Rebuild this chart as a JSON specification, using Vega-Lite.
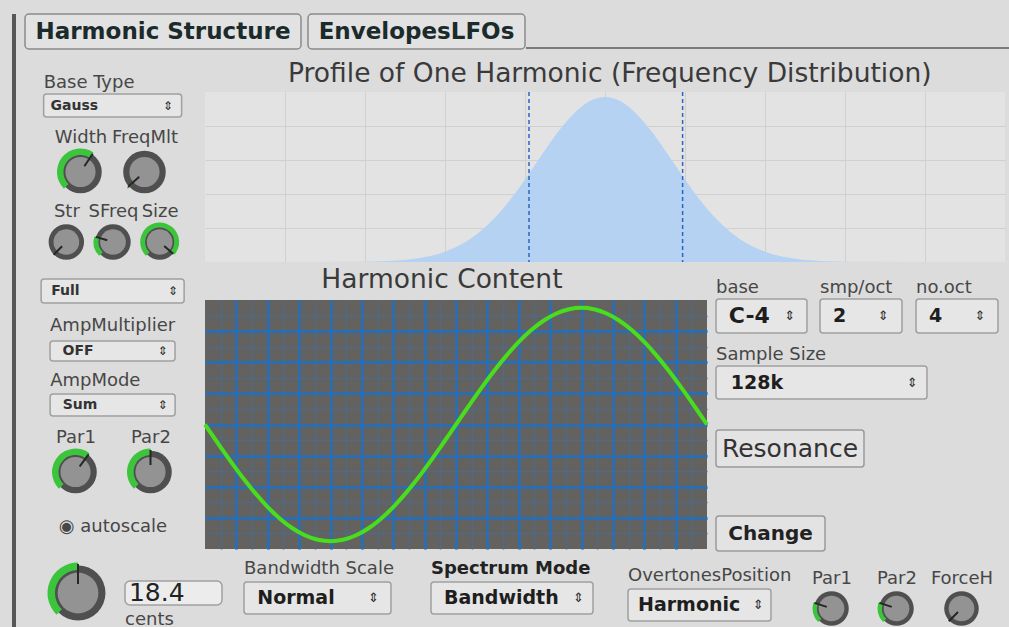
{
 "$schema": "https://vega.github.io/schema/vega-lite/v6.json",
 "background": "#dcdcdc",
 "padding": {"left": 12, "top": 13, "right": 0, "bottom": 0},
 "config": {
  "font": "DejaVu Sans",
  "view": {"stroke": null},
  "axis": {"minExtent": 0, "tickSize": 0, "labelPadding": 0, "labelFont": "DejaVu Sans"},
  "title": {"font": "DejaVu Sans", "fontSize": 18, "fontWeight": "normal", "color": "#474747", "anchor": "start", "offset": 4},
  "text": {"font": "DejaVu Sans"}
 },
 "spacing": 8,
 "hconcat": [
  {"width": 4, "height": 614, "view": {"fill": "#575757"}, "data": {"values": []}, "mark": "text"},
  {"spacing": 0, "vconcat": [
   {"spacing": 0, "hconcat": [
    {"width": 276, "height": 35, "view": {"fill": "#e2e2e2", "stroke": "#8a8a8a", "strokeWidth": 1.5, "cornerRadius": 4}, "data": {"values": [{"tab": "Harmonic Structure"}]}, "mark": {"type": "text", "fontSize": 23, "fontWeight": "bold", "color": "#1b2a2a"}, "encoding": {"text": {"field": "tab", "type": "nominal"}}},
    {"width": 5, "height": 1, "data": {"values": []}, "mark": "text"},
    {"width": 217, "height": 35, "view": {"fill": "#e2e2e2", "stroke": "#8a8a8a", "strokeWidth": 1.5, "cornerRadius": 4}, "data": {"values": [{"tab": "EnvelopesLFOs"}]}, "mark": {"type": "text", "fontSize": 23, "fontWeight": "bold", "color": "#1b2a2a"}, "encoding": {"text": {"field": "tab", "type": "nominal"}}},
    {"spacing": 0, "vconcat": [
     {"width": 1, "height": 33, "data": {"values": []}, "mark": "text"},
     {"width": 483, "height": 2, "view": {"fill": "#7a7a7a"}, "data": {"values": []}, "mark": "text"}
    ]}
   ]},
   {"width": 1, "height": 8, "data": {"values": []}, "mark": "text"},
   {"spacing": 0, "hconcat": [
    {"width": 13, "height": 1, "data": {"values": []}, "mark": "text"},
    {"spacing": 0, "center": true, "vconcat": [
     {"width": 1, "height": 15, "data": {"values": []}, "mark": "text"},
     {"width": 138, "height": 23, "title": {"text": "Base Type", "offset": 2}, "view": {"fill": "#e6e6e6", "stroke": "#a0a0a0", "strokeWidth": 1.5, "cornerRadius": 3}, "data": {"values": [{"value": "Gauss"}]},
      "layer": [
       {"mark": {"type": "text", "align": "left", "fontSize": 14, "fontWeight": "bold", "color": "#333333"}, "encoding": {"text": {"field": "value", "type": "nominal"}, "x": {"datum": 0.05, "type": "quantitative", "scale": {"domain": [0, 1]}, "axis": null}}},
       {"mark": {"type": "text", "fontSize": 12, "color": "#2a2a2a", "text": "⇕"}, "encoding": {"x": {"datum": 0.9, "type": "quantitative", "axis": null}}}
      ]},
     {"width": 1, "height": 10, "data": {"values": []}, "mark": "text"},
     {"width": 128, "height": 48,
      "data": {"values": [{"knob": "Width", "angle": 0.59}, {"knob": "FreqMlt", "angle": -2.3}]},
      "encoding": {"x": {"field": "knob", "type": "nominal", "sort": null, "axis": {"orient": "top", "title": null, "ticks": false, "domain": false, "grid": false, "labelAngle": 0, "labelFontSize": 18, "labelColor": "#474747", "labelPadding": 2, "labelOverlap": false}}},
      "layer": [
       {"mark": {"type": "point", "filled": true, "opacity": 1, "size": 1810, "color": "#4f4f4f"}},
       {"mark": {"type": "arc", "radius": 23.5, "radius2": 17, "color": "#3cc43c"}, "encoding": {"theta": {"field": "angle", "type": "quantitative", "scale": null, "stack": null}, "theta2": {"value": -2.36}}},
       {"mark": {"type": "point", "filled": true, "opacity": 1, "size": 908, "color": "#939393"}},
       {"mark": {"type": "arc", "radius": 22, "radius2": 7, "filled": false, "color": "#262626", "strokeWidth": 2}, "encoding": {"theta": {"field": "angle", "type": "quantitative", "scale": null, "stack": null}, "theta2": {"field": "angle"}}}
      ]},
     {"width": 1, "height": 6, "data": {"values": []}, "mark": "text"},
     {"width": 140, "height": 40,
      "data": {"values": [{"knob": "Str", "angle": -2.36}, {"knob": "SFreq", "angle": -1.28}, {"knob": "Size", "angle": 2.29}]},
      "encoding": {"x": {"field": "knob", "type": "nominal", "sort": null, "axis": {"orient": "top", "title": null, "ticks": false, "domain": false, "grid": false, "labelAngle": 0, "labelFontSize": 18, "labelColor": "#474747", "labelPadding": 2, "labelOverlap": false}}},
      "layer": [
       {"mark": {"type": "point", "filled": true, "opacity": 1, "size": 1257, "color": "#4f4f4f"}},
       {"mark": {"type": "arc", "radius": 19.5, "radius2": 14.5, "color": "#3cc43c"}, "encoding": {"theta": {"field": "angle", "type": "quantitative", "scale": null, "stack": null}, "theta2": {"value": -2.36}}},
       {"mark": {"type": "point", "filled": true, "opacity": 1, "size": 660, "color": "#939393"}},
       {"mark": {"type": "arc", "radius": 18, "radius2": 6, "filled": false, "color": "#262626", "strokeWidth": 2}, "encoding": {"theta": {"field": "angle", "type": "quantitative", "scale": null, "stack": null}, "theta2": {"field": "angle"}}}
      ]},
     {"width": 1, "height": 16, "data": {"values": []}, "mark": "text"},
     {"width": 143, "height": 24, "view": {"fill": "#e6e6e6", "stroke": "#a0a0a0", "strokeWidth": 1.5, "cornerRadius": 3}, "data": {"values": [{"value": "Full"}]},
      "layer": [
       {"mark": {"type": "text", "align": "left", "fontSize": 14, "fontWeight": "bold", "color": "#333333"}, "encoding": {"text": {"field": "value", "type": "nominal"}, "x": {"datum": 0.07, "type": "quantitative", "scale": {"domain": [0, 1]}, "axis": null}}},
       {"mark": {"type": "text", "fontSize": 12, "color": "#2a2a2a", "text": "⇕"}, "encoding": {"x": {"datum": 0.92, "type": "quantitative", "axis": null}}}
      ]},
     {"width": 1, "height": 12, "data": {"values": []}, "mark": "text"},
     {"width": 125, "height": 20, "title": {"text": "AmpMultiplier", "offset": 6}, "view": {"fill": "#e6e6e6", "stroke": "#a0a0a0", "strokeWidth": 1.5, "cornerRadius": 3}, "data": {"values": [{"value": "OFF"}]},
      "layer": [
       {"mark": {"type": "text", "align": "left", "fontSize": 14, "fontWeight": "bold", "color": "#333333"}, "encoding": {"text": {"field": "value", "type": "nominal"}, "x": {"datum": 0.1, "type": "quantitative", "scale": {"domain": [0, 1]}, "axis": null}}},
       {"mark": {"type": "text", "fontSize": 12, "color": "#2a2a2a", "text": "⇕"}, "encoding": {"x": {"datum": 0.9, "type": "quantitative", "axis": null}}}
      ]},
     {"width": 1, "height": 9, "data": {"values": []}, "mark": "text"},
     {"width": 125, "height": 22, "title": {"text": "AmpMode", "offset": 4}, "view": {"fill": "#e6e6e6", "stroke": "#a0a0a0", "strokeWidth": 1.5, "cornerRadius": 3}, "data": {"values": [{"value": "Sum"}]},
      "layer": [
       {"mark": {"type": "text", "align": "left", "fontSize": 14, "fontWeight": "bold", "color": "#333333"}, "encoding": {"text": {"field": "value", "type": "nominal"}, "x": {"datum": 0.1, "type": "quantitative", "scale": {"domain": [0, 1]}, "axis": null}}},
       {"mark": {"type": "text", "fontSize": 12, "color": "#2a2a2a", "text": "⇕"}, "encoding": {"x": {"datum": 0.9, "type": "quantitative", "axis": null}}}
      ]},
     {"width": 1, "height": 11, "data": {"values": []}, "mark": "text"},
     {"width": 150, "height": 48,
      "data": {"values": [{"knob": "Par1", "angle": 0.64}, {"knob": "Par2", "angle": 0}]},
      "encoding": {"x": {"field": "knob", "type": "nominal", "sort": null, "axis": {"orient": "top", "title": null, "ticks": false, "domain": false, "grid": false, "labelAngle": 0, "labelFontSize": 18, "labelColor": "#474747", "labelPadding": 2, "labelOverlap": false}}},
      "layer": [
       {"mark": {"type": "point", "filled": true, "opacity": 1, "size": 1810, "color": "#4f4f4f"}},
       {"mark": {"type": "arc", "radius": 23.5, "radius2": 17, "color": "#3cc43c"}, "encoding": {"theta": {"field": "angle", "type": "quantitative", "scale": null, "stack": null}, "theta2": {"value": -2.36}}},
       {"mark": {"type": "point", "filled": true, "opacity": 1, "size": 908, "color": "#939393"}},
       {"mark": {"type": "arc", "radius": 22, "radius2": 7, "filled": false, "color": "#262626", "strokeWidth": 2}, "encoding": {"theta": {"field": "angle", "type": "quantitative", "scale": null, "stack": null}, "theta2": {"field": "angle"}}}
      ]},
     {"width": 1, "height": 19, "data": {"values": []}, "mark": "text"},
     {"width": 120, "height": 24, "data": {"values": [{"label": "◉ autoscale"}]}, "mark": {"type": "text", "fontSize": 18, "color": "#474747"}, "encoding": {"text": {"field": "label", "type": "nominal"}}}
    ]},
    {"width": 9, "height": 1, "data": {"values": []}, "mark": "text"},
    {"spacing": 0, "vconcat": [
     {"width": 800, "height": 26, "data": {"values": [{"title": "Profile of One Harmonic (Frequency Distribution)"}]},
      "mark": {"type": "text", "fontSize": 26.5, "color": "#3a3a3a", "dy": 3},
      "encoding": {"text": {"field": "title", "type": "nominal"}, "x": {"datum": 0.506, "type": "quantitative", "scale": {"domain": [0, 1]}, "axis": null}}},
     {"width": 1, "height": 3, "data": {"values": []}, "mark": "text"},
     {"width": 800, "height": 170,
      "view": {"fill": "#e3e3e3"},
      "layer": [
       {"data": {"values": [
         {"f": 0.0, "a": 0}, {"f": 0.2, "a": 0.002}, {"f": 0.22, "a": 0.0043}, {"f": 0.24, "a": 0.009}, {"f": 0.26, "a": 0.018},
         {"f": 0.28, "a": 0.034}, {"f": 0.3, "a": 0.061}, {"f": 0.32, "a": 0.103}, {"f": 0.34, "a": 0.165}, {"f": 0.36, "a": 0.25},
         {"f": 0.38, "a": 0.358}, {"f": 0.4, "a": 0.486}, {"f": 0.42, "a": 0.623}, {"f": 0.44, "a": 0.757}, {"f": 0.46, "a": 0.868},
         {"f": 0.48, "a": 0.944}, {"f": 0.5, "a": 0.97}, {"f": 0.52, "a": 0.944}, {"f": 0.54, "a": 0.868}, {"f": 0.56, "a": 0.757},
         {"f": 0.58, "a": 0.623}, {"f": 0.6, "a": 0.486}, {"f": 0.62, "a": 0.358}, {"f": 0.64, "a": 0.25}, {"f": 0.66, "a": 0.165},
         {"f": 0.68, "a": 0.103}, {"f": 0.7, "a": 0.061}, {"f": 0.72, "a": 0.034}, {"f": 0.74, "a": 0.018}, {"f": 0.76, "a": 0.009},
         {"f": 0.78, "a": 0.0043}, {"f": 0.8, "a": 0.002}, {"f": 1.0, "a": 0}
        ]},
        "mark": {"type": "area", "color": "#b5d2f2", "opacity": 1, "interpolate": "monotone"},
        "encoding": {
         "x": {"field": "f", "type": "quantitative", "scale": {"domain": [0, 1], "nice": false}, "axis": {"values": [0.1, 0.2, 0.3, 0.4, 0.5, 0.6, 0.7, 0.8, 0.9], "grid": true, "gridColor": "#d0d0d0", "labels": false, "ticks": false, "domain": false, "title": null}},
         "y": {"field": "a", "type": "quantitative", "scale": {"domain": [0, 1], "nice": false}, "axis": {"values": [0.2, 0.4, 0.6, 0.8], "grid": true, "gridColor": "#d0d0d0", "labels": false, "ticks": false, "domain": false, "title": null}}
        }},
       {"data": {"values": [{"f": 0.405}, {"f": 0.597}]},
        "mark": {"type": "rule", "color": "#2f64c6", "strokeDash": [4, 3], "strokeWidth": 1.5},
        "encoding": {"x": {"field": "f", "type": "quantitative"}}}
      ]},
     {"spacing": 0, "hconcat": [
      {"spacing": 0, "vconcat": [
       {"width": 502, "height": 32, "data": {"values": [{"title": "Harmonic Content"}]},
        "mark": {"type": "text", "fontSize": 26.5, "color": "#3a3a3a", "dy": 1},
        "encoding": {"text": {"field": "title", "type": "nominal"}, "x": {"datum": 0.472, "type": "quantitative", "scale": {"domain": [0, 1]}, "axis": null}}},
       {"width": 1, "height": 4, "data": {"values": []}, "mark": "text"},
       {"width": 502, "height": 249,
        "view": {"fill": "#64625f"},
        "data": {"values": [
         {"t": 0, "v": 0}, {"t": 0.8, "v": -1.173}, {"t": 1.6, "v": -2.318}, {"t": 2.4, "v": -3.405}, {"t": 3.2, "v": -4.408},
         {"t": 4.0, "v": -5.303}, {"t": 4.8, "v": -6.068}, {"t": 5.6, "v": -6.682}, {"t": 6.4, "v": -7.133}, {"t": 7.2, "v": -7.408},
         {"t": 8.0, "v": -7.5}, {"t": 8.8, "v": -7.408}, {"t": 9.6, "v": -7.133}, {"t": 10.4, "v": -6.682}, {"t": 11.2, "v": -6.068},
         {"t": 12.0, "v": -5.303}, {"t": 12.8, "v": -4.408}, {"t": 13.6, "v": -3.405}, {"t": 14.4, "v": -2.318}, {"t": 15.2, "v": -1.173},
         {"t": 16.0, "v": 0}, {"t": 16.8, "v": 1.173}, {"t": 17.6, "v": 2.318}, {"t": 18.4, "v": 3.405}, {"t": 19.2, "v": 4.408},
         {"t": 20.0, "v": 5.303}, {"t": 20.8, "v": 6.068}, {"t": 21.6, "v": 6.682}, {"t": 22.4, "v": 7.133}, {"t": 23.2, "v": 7.408},
         {"t": 24.0, "v": 7.5}, {"t": 24.8, "v": 7.408}, {"t": 25.6, "v": 7.133}, {"t": 26.4, "v": 6.682}, {"t": 27.2, "v": 6.068},
         {"t": 28.0, "v": 5.303}, {"t": 28.8, "v": 4.408}, {"t": 29.6, "v": 3.405}, {"t": 30.4, "v": 2.318}, {"t": 31.2, "v": 1.173},
         {"t": 32.0, "v": 0}
        ]},
        "layer": [
         {"mark": {"type": "line", "strokeOpacity": 0},
          "encoding": {
           "x": {"field": "t", "type": "quantitative", "scale": {"domain": [0, 32], "nice": false}, "axis": {"values": [1, 3, 5, 7, 9, 11, 13, 15, 17, 19, 21, 23, 25, 27, 29, 31], "grid": true, "gridColor": "#4f6a82", "gridWidth": 1.5, "labels": false, "ticks": false, "domain": false, "title": null}},
           "y": {"field": "v", "type": "quantitative", "scale": {"domain": [-8, 8], "nice": false, "zero": false}, "axis": {"values": [-7, -5, -3, -1, 1, 3, 5, 7], "grid": true, "gridColor": "#4f6a82", "gridWidth": 1.5, "labels": false, "ticks": false, "domain": false, "title": null}}
          }},
         {"mark": {"type": "line", "color": "#49de1d", "strokeWidth": 4, "interpolate": "monotone"},
          "encoding": {
           "x": {"field": "t", "type": "quantitative", "axis": {"values": [2, 4, 6, 8, 10, 12, 14, 16, 18, 20, 22, 24, 26, 28, 30], "grid": true, "gridColor": "#2a6db0", "gridWidth": 3, "labels": false, "ticks": false, "domain": false, "title": null}},
           "y": {"field": "v", "type": "quantitative", "axis": {"values": [-6, -4, -2, 0, 2, 4, 6], "grid": true, "gridColor": "#2a6db0", "gridWidth": 3, "labels": false, "ticks": false, "domain": false, "title": null}}
          }}
        ],
        "resolve": {"axis": {"x": "independent", "y": "independent"}}
       }
      ]},
      {"spacing": 0, "vconcat": [
       {"width": 1, "height": 15, "data": {"values": []}, "mark": "text"},
       {"spacing": 0, "hconcat": [
        {"width": 91, "height": 34, "title": {"text": "base", "offset": 2}, "view": {"fill": "#e6e6e6", "stroke": "#a0a0a0", "strokeWidth": 1.5, "cornerRadius": 3}, "data": {"values": [{"value": "C-4"}]},
         "layer": [
          {"mark": {"type": "text", "align": "left", "fontSize": 22, "fontWeight": "bold", "color": "#1e1e1e"}, "encoding": {"text": {"field": "value", "type": "nominal"}, "x": {"datum": 0.14, "type": "quantitative", "scale": {"domain": [0, 1]}, "axis": null}}},
          {"mark": {"type": "text", "fontSize": 13, "color": "#2a2a2a", "text": "⇕"}, "encoding": {"x": {"datum": 0.81, "type": "quantitative", "axis": null}}}
         ]},
        {"width": 11, "height": 1, "data": {"values": []}, "mark": "text"},
        {"width": 82, "height": 34, "title": {"text": "smp/oct", "offset": 2}, "view": {"fill": "#e6e6e6", "stroke": "#a0a0a0", "strokeWidth": 1.5, "cornerRadius": 3}, "data": {"values": [{"value": "2"}]},
         "layer": [
          {"mark": {"type": "text", "align": "left", "fontSize": 19, "fontWeight": "bold", "color": "#1e1e1e"}, "encoding": {"text": {"field": "value", "type": "nominal"}, "x": {"datum": 0.16, "type": "quantitative", "scale": {"domain": [0, 1]}, "axis": null}}},
          {"mark": {"type": "text", "fontSize": 13, "color": "#2a2a2a", "text": "⇕"}, "encoding": {"x": {"datum": 0.77, "type": "quantitative", "axis": null}}}
         ]},
        {"width": 12, "height": 1, "data": {"values": []}, "mark": "text"},
        {"width": 82, "height": 34, "title": {"text": "no.oct", "offset": 2}, "view": {"fill": "#e6e6e6", "stroke": "#a0a0a0", "strokeWidth": 1.5, "cornerRadius": 3}, "data": {"values": [{"value": "4"}]},
         "layer": [
          {"mark": {"type": "text", "align": "left", "fontSize": 19, "fontWeight": "bold", "color": "#1e1e1e"}, "encoding": {"text": {"field": "value", "type": "nominal"}, "x": {"datum": 0.16, "type": "quantitative", "scale": {"domain": [0, 1]}, "axis": null}}},
          {"mark": {"type": "text", "fontSize": 13, "color": "#2a2a2a", "text": "⇕"}, "encoding": {"x": {"datum": 0.78, "type": "quantitative", "axis": null}}}
         ]}
       ]},
       {"width": 1, "height": 11, "data": {"values": []}, "mark": "text"},
       {"width": 211, "height": 33, "title": {"text": "Sample Size", "offset": 2}, "view": {"fill": "#e6e6e6", "stroke": "#a0a0a0", "strokeWidth": 1.5, "cornerRadius": 3}, "data": {"values": [{"value": "128k"}]},
        "layer": [
         {"mark": {"type": "text", "align": "left", "fontSize": 19, "fontWeight": "bold", "color": "#1e1e1e"}, "encoding": {"text": {"field": "value", "type": "nominal"}, "x": {"datum": 0.07, "type": "quantitative", "scale": {"domain": [0, 1]}, "axis": null}}},
         {"mark": {"type": "text", "fontSize": 13, "color": "#2a2a2a", "text": "⇕"}, "encoding": {"x": {"datum": 0.93, "type": "quantitative", "axis": null}}}
        ]},
       {"width": 1, "height": 29, "data": {"values": []}, "mark": "text"},
       {"width": 148, "height": 37, "view": {"fill": "#e3e3e3", "stroke": "#9a9a9a", "strokeWidth": 1.5, "cornerRadius": 3}, "data": {"values": [{"label": "Resonance"}]}, "mark": {"type": "text", "fontSize": 25, "color": "#333333"}, "encoding": {"text": {"field": "label", "type": "nominal"}}},
       {"width": 1, "height": 47, "data": {"values": []}, "mark": "text"},
       {"width": 109, "height": 35, "view": {"fill": "#e3e3e3", "stroke": "#9a9a9a", "strokeWidth": 1.5, "cornerRadius": 3}, "data": {"values": [{"label": "Change"}]}, "mark": {"type": "text", "fontSize": 20, "fontWeight": "bold", "color": "#222222"}, "encoding": {"text": {"field": "label", "type": "nominal"}}}
      ]}
     ]}
    ]}
   ]},
   {"width": 1, "height": 6, "data": {"values": []}, "mark": "text"},
   {"spacing": 0, "hconcat": [
    {"width": 21, "height": 1, "data": {"values": []}, "mark": "text"},
    {"width": 64, "height": 70,
     "data": {"values": [{"knob": "Bandwidth", "angle": 0}]},
     "layer": [
      {"mark": {"type": "point", "filled": true, "opacity": 1, "size": 3019, "color": "#4f4f4f"}},
      {"mark": {"type": "arc", "radius": 30.5, "radius2": 23, "color": "#3cc43c"}, "encoding": {"theta": {"field": "angle", "type": "quantitative", "scale": null, "stack": null}, "theta2": {"value": -2.36}}},
      {"mark": {"type": "point", "filled": true, "opacity": 1, "size": 1662, "color": "#939393"}},
      {"mark": {"type": "arc", "radius": 29, "radius2": 9, "filled": false, "color": "#262626", "strokeWidth": 2}, "encoding": {"theta": {"field": "angle", "type": "quantitative", "scale": null, "stack": null}, "theta2": {"field": "angle"}}}
     ]},
    {"width": 14, "height": 1, "data": {"values": []}, "mark": "text"},
    {"spacing": 0, "vconcat": [
     {"width": 1, "height": 22, "data": {"values": []}, "mark": "text"},
     {"width": 97, "height": 24, "title": {"text": "cents", "orient": "bottom", "offset": 5}, "view": {"fill": "#ececec", "stroke": "#a0a0a0", "strokeWidth": 1.5, "cornerRadius": 5}, "data": {"values": [{"value": "18.4"}]},
      "mark": {"type": "text", "align": "left", "fontSize": 25, "color": "#222222"},
      "encoding": {"text": {"field": "value", "type": "nominal"}, "x": {"datum": 0.04, "type": "quantitative", "scale": {"domain": [0, 1]}, "axis": null}}}
    ]},
    {"width": 20, "height": 1, "data": {"values": []}, "mark": "text"},
    {"spacing": 0, "vconcat": [
     {"width": 1, "height": 1, "data": {"values": []}, "mark": "text"},
     {"width": 147, "height": 32, "title": {"text": "Bandwidth Scale", "offset": 4}, "view": {"fill": "#e6e6e6", "stroke": "#a0a0a0", "strokeWidth": 1.5, "cornerRadius": 3}, "data": {"values": [{"value": "Normal"}]},
      "layer": [
       {"mark": {"type": "text", "align": "left", "fontSize": 19, "fontWeight": "bold", "color": "#1e1e1e"}, "encoding": {"text": {"field": "value", "type": "nominal"}, "x": {"datum": 0.09, "type": "quantitative", "scale": {"domain": [0, 1]}, "axis": null}}},
       {"mark": {"type": "text", "fontSize": 13, "color": "#2a2a2a", "text": "⇕"}, "encoding": {"x": {"datum": 0.88, "type": "quantitative", "axis": null}}}
      ]}
    ]},
    {"width": 35, "height": 1, "data": {"values": []}, "mark": "text"},
    {"spacing": 0, "vconcat": [
     {"width": 1, "height": 1, "data": {"values": []}, "mark": "text"},
     {"width": 162, "height": 32, "title": {"text": "Spectrum Mode", "offset": 4, "fontWeight": "bold", "color": "#222222"}, "view": {"fill": "#e6e6e6", "stroke": "#a0a0a0", "strokeWidth": 1.5, "cornerRadius": 3}, "data": {"values": [{"value": "Bandwidth"}]},
      "layer": [
       {"mark": {"type": "text", "align": "left", "fontSize": 19, "fontWeight": "bold", "color": "#1e1e1e"}, "encoding": {"text": {"field": "value", "type": "nominal"}, "x": {"datum": 0.08, "type": "quantitative", "scale": {"domain": [0, 1]}, "axis": null}}},
       {"mark": {"type": "text", "fontSize": 13, "color": "#2a2a2a", "text": "⇕"}, "encoding": {"x": {"datum": 0.91, "type": "quantitative", "axis": null}}}
      ]}
    ]},
    {"width": 13, "height": 1, "data": {"values": []}, "mark": "text"},
    {"spacing": 0, "vconcat": [
     {"width": 1, "height": 8, "data": {"values": []}, "mark": "text"},
     {"spacing": 0, "hconcat": [
      {"width": 20, "height": 1, "data": {"values": []}, "mark": "text"},
      {"width": 143, "height": 32, "title": {"text": "OvertonesPosition", "offset": 4}, "view": {"fill": "#e6e6e6", "stroke": "#a0a0a0", "strokeWidth": 1.5, "cornerRadius": 3}, "data": {"values": [{"value": "Harmonic"}]},
       "layer": [
        {"mark": {"type": "text", "align": "left", "fontSize": 19, "fontWeight": "bold", "color": "#1e1e1e"}, "encoding": {"text": {"field": "value", "type": "nominal"}, "x": {"datum": 0.07, "type": "quantitative", "scale": {"domain": [0, 1]}, "axis": null}}},
        {"mark": {"type": "text", "fontSize": 13, "color": "#2a2a2a", "text": "⇕"}, "encoding": {"x": {"datum": 0.91, "type": "quantitative", "axis": null}}}
       ]},
      {"width": 6, "height": 1, "data": {"values": []}, "mark": "text"},
      {"width": 195, "height": 39,
       "data": {"values": [{"knob": "Par1", "angle": -1.25}, {"knob": "Par2", "angle": -1.25}, {"knob": "ForceH", "angle": -2.36}]},
       "encoding": {"x": {"field": "knob", "type": "nominal", "sort": null, "axis": {"orient": "top", "title": null, "ticks": false, "domain": false, "grid": false, "labelAngle": 0, "labelFontSize": 18, "labelColor": "#474747", "labelPadding": 2, "labelOverlap": false}}},
       "layer": [
        {"mark": {"type": "point", "filled": true, "opacity": 1, "size": 1195, "color": "#4f4f4f"}},
        {"mark": {"type": "arc", "radius": 19, "radius2": 14.5, "color": "#3cc43c"}, "encoding": {"theta": {"field": "angle", "type": "quantitative", "scale": null, "stack": null}, "theta2": {"value": -2.36}}},
        {"mark": {"type": "point", "filled": true, "opacity": 1, "size": 660, "color": "#939393"}},
        {"mark": {"type": "arc", "radius": 18, "radius2": 5, "filled": false, "color": "#262626", "strokeWidth": 2}, "encoding": {"theta": {"field": "angle", "type": "quantitative", "scale": null, "stack": null}, "theta2": {"field": "angle"}}}
       ]}
     ]}
    ]}
   ]}
  ]}
 ]
}
